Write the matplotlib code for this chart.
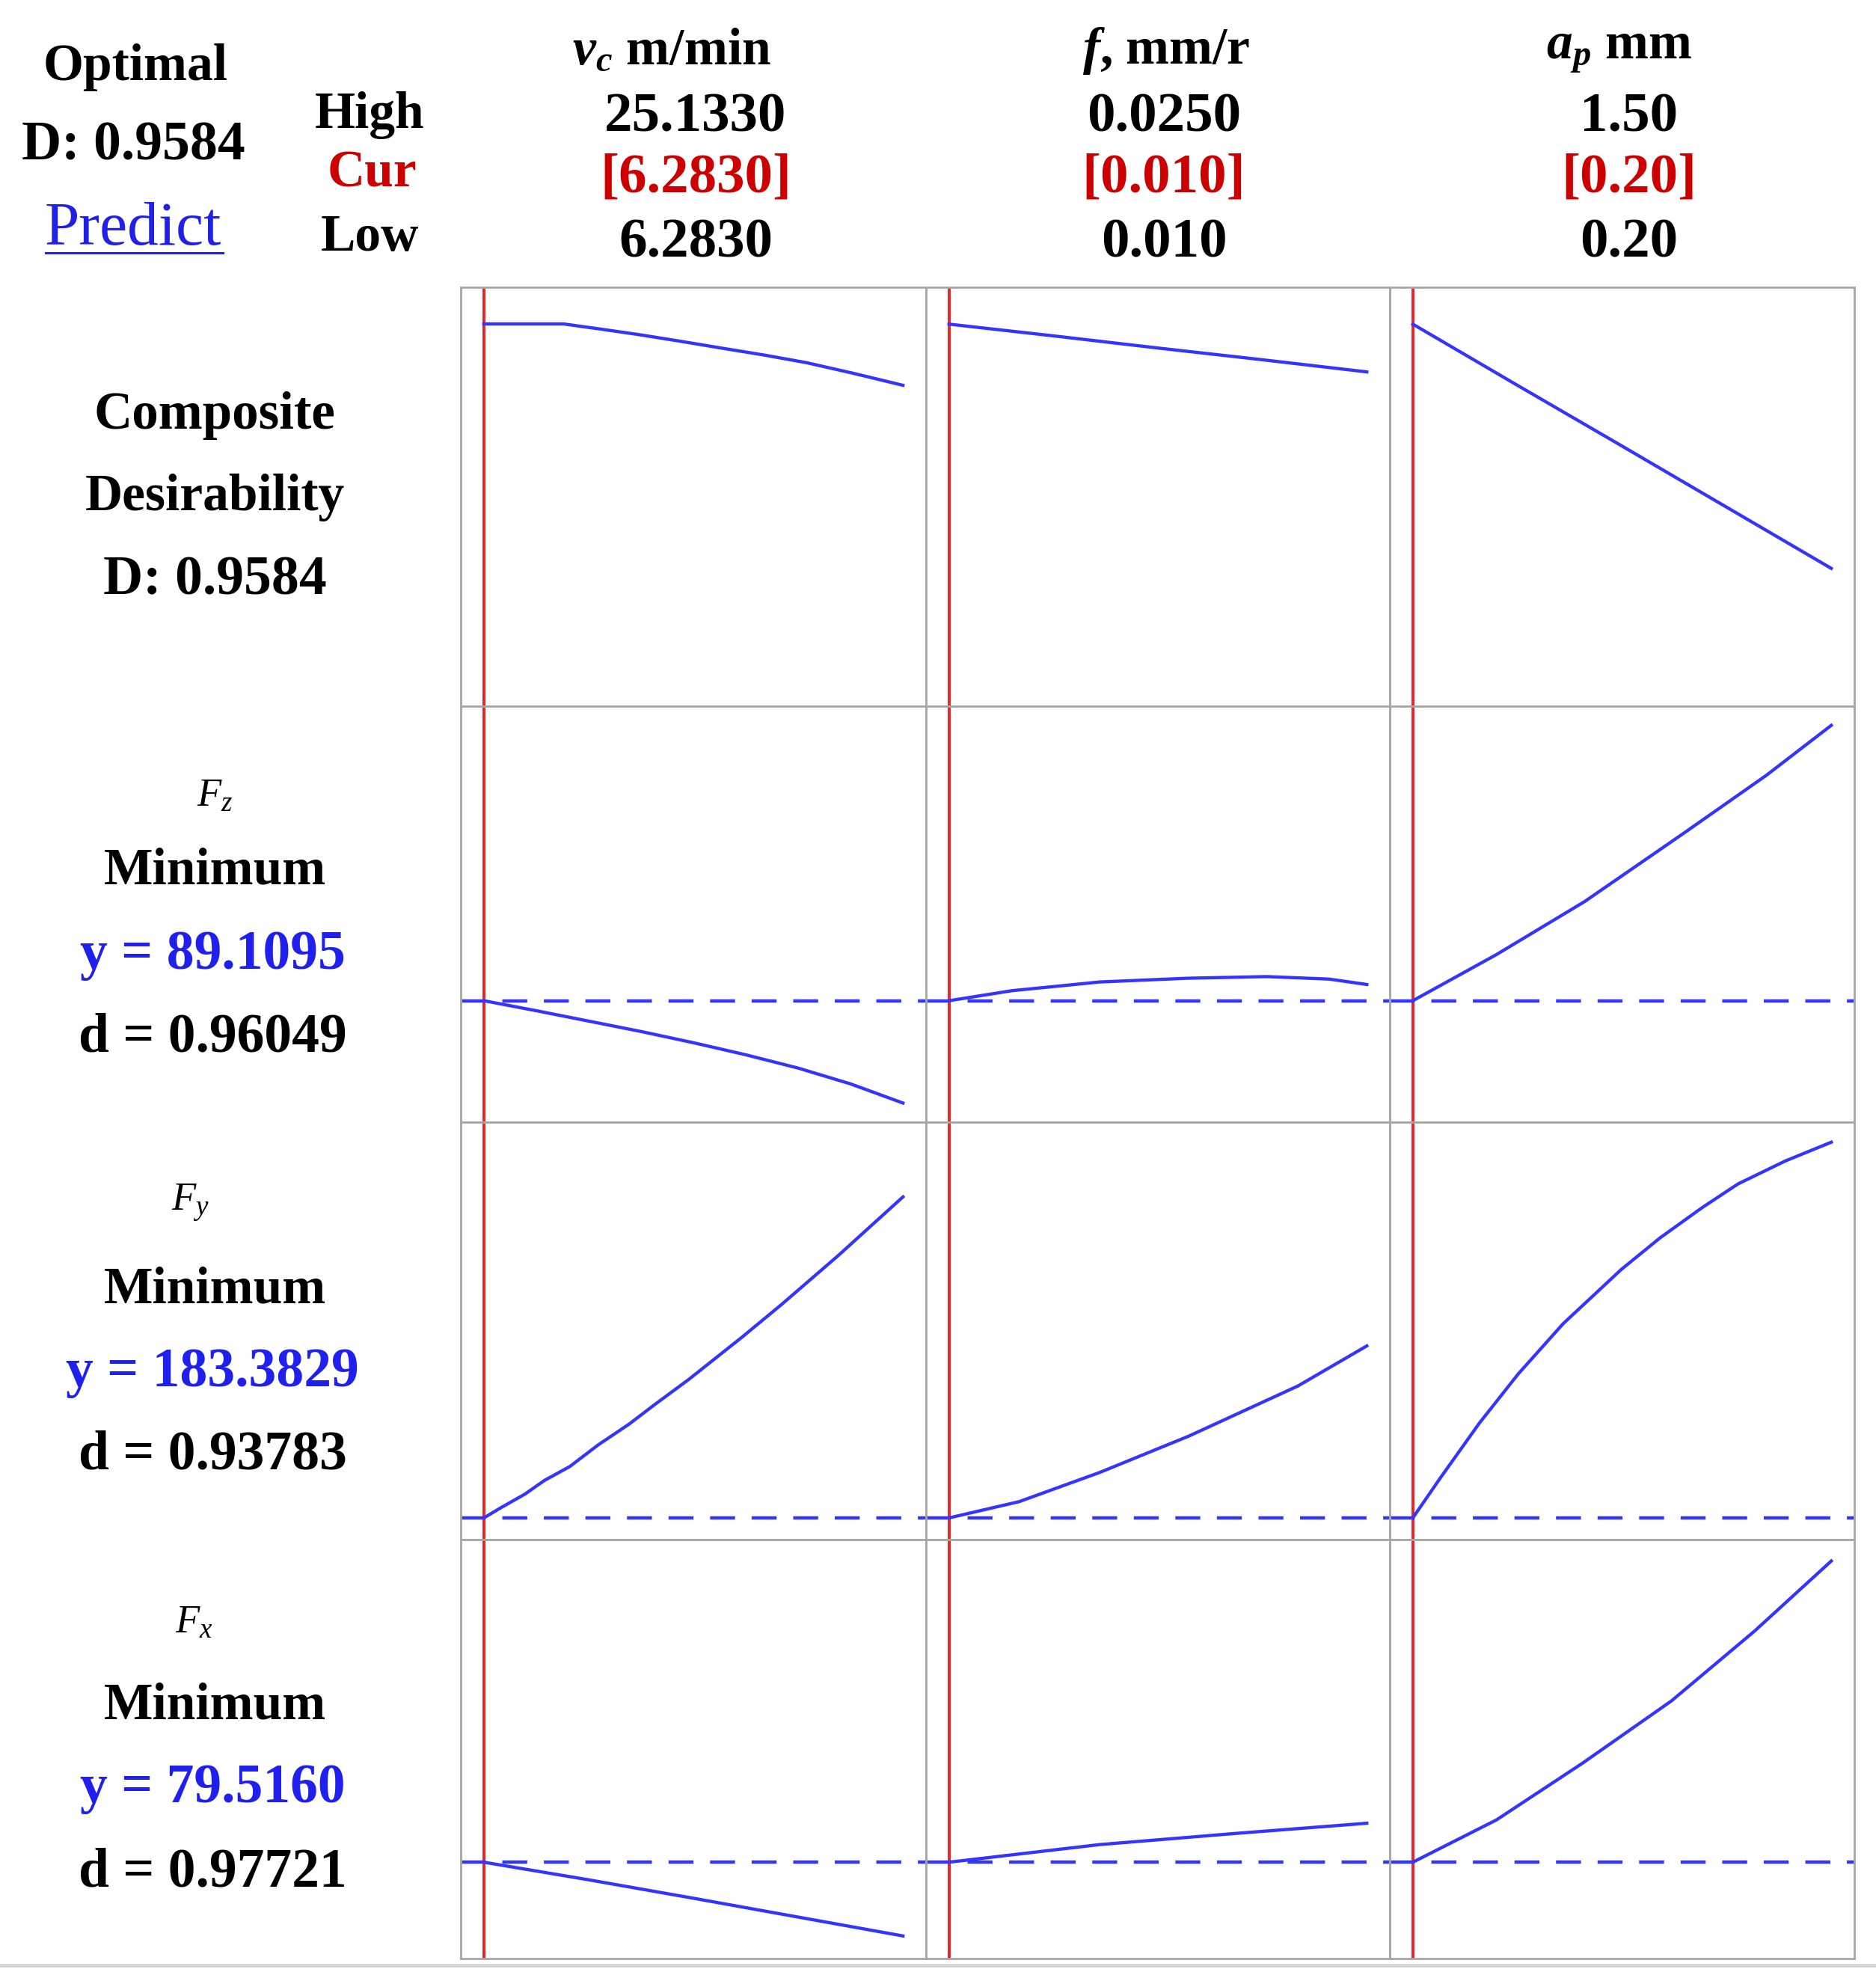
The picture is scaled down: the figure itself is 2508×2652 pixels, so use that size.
import matplotlib.pyplot as plt
from matplotlib.lines import Line2D

plt.rcParams['font.family'] = ['Liberation Serif', 'DejaVu Serif']
plt.rcParams['mathtext.fontset'] = 'custom'
plt.rcParams['mathtext.rm'] = 'Liberation Serif'
plt.rcParams['mathtext.it'] = 'Liberation Serif:italic'
plt.rcParams['mathtext.bf'] = 'Liberation Serif:bold'
plt.rcParams['mathtext.bfit'] = 'Liberation Serif:italic:bold'

# factors (columns)
factor_names = [r'$\mathbfit{v_c}$ m/min', r'$\mathbfit{f}$, mm/r', r'$\mathbfit{a_p}$ mm']
factor_low = [6.2830, 0.010, 0.20]
factor_high = [25.1330, 0.0250, 1.50]
high_labels = ['25.1330', '0.0250', '1.50']
cur_labels = ['[6.2830]', '[0.010]', '[0.20]']
low_labels = ['6.2830', '0.010', '0.20']

# responses (rows)
resp_names = [r'$F_z$', r'$F_y$', r'$F_x$']
resp_goal = ['Minimum', 'Minimum', 'Minimum']
resp_y = ['89.1095', '183.3829', '79.5160']
resp_d = ['0.96049', '0.93783', '0.97721']
composite_D = '0.9584'

# current response level (fraction of panel height), composite row has none
ref_level = [None, 0.292, 0.052, 0.230]

# curves: x = fraction of factor range, y = fraction of panel height
comp_vc_x = [0, 0.19, 0.28, 0.37, 0.47, 0.56, 0.67, 0.77, 0.88, 1.0]
comp_vc_y = [0.9125, 0.9125, 0.900, 0.887, 0.871, 0.856, 0.838, 0.820, 0.795, 0.766]
comp_f_x = [0, 0.25, 0.5, 0.75, 1.0]
comp_f_y = [0.912, 0.884, 0.855, 0.827, 0.798]
comp_ap_x = [0, 0.25, 0.5, 0.75, 1.0]
comp_ap_y = [0.912, 0.766, 0.621, 0.475, 0.329]

fz_vc_x = [0, 0.125, 0.25, 0.375, 0.5, 0.625, 0.75, 0.875, 1.0]
fz_vc_y = [0.292, 0.268, 0.243, 0.218, 0.191, 0.162, 0.130, 0.092, 0.046]
fz_f_x = [0, 0.15, 0.36, 0.57, 0.76, 0.91, 1.0]
fz_f_y = [0.292, 0.316, 0.337, 0.346, 0.350, 0.344, 0.331]
fz_ap_x = [0, 0.2, 0.41, 0.645, 0.845, 1.0]
fz_ap_y = [0.292, 0.403, 0.530, 0.693, 0.834, 0.954]

fy_vc_x = [0, 0.04, 0.098, 0.145, 0.205, 0.273, 0.347, 0.407, 0.488, 0.616, 0.71, 0.845, 1.0]
fy_vc_y = [0.052, 0.076, 0.109, 0.142, 0.175, 0.227, 0.277, 0.323, 0.383, 0.485, 0.563, 0.680, 0.821]
fy_f_x = [0, 0.168, 0.361, 0.574, 0.835, 1.0]
fy_f_y = [0.052, 0.091, 0.161, 0.248, 0.368, 0.464]
fy_ap_x = [0, 0.066, 0.159, 0.252, 0.359, 0.498, 0.591, 0.691, 0.777, 0.890, 1.0]
fy_ap_y = [0.052, 0.148, 0.279, 0.397, 0.517, 0.647, 0.723, 0.795, 0.852, 0.907, 0.952]

fx_vc_x = [0, 0.25, 0.5, 0.75, 1.0]
fx_vc_y = [0.230, 0.188, 0.144, 0.099, 0.054]
fx_f_x = [0, 0.36, 0.69, 1.0]
fx_f_y = [0.230, 0.272, 0.299, 0.323]
fx_ap_x = [0, 0.2, 0.405, 0.618, 0.817, 1.0]
fx_ap_y = [0.230, 0.331, 0.466, 0.615, 0.782, 0.949]

curves = [
    [(comp_vc_x, comp_vc_y), (comp_f_x, comp_f_y), (comp_ap_x, comp_ap_y)],
    [(fz_vc_x, fz_vc_y), (fz_f_x, fz_f_y), (fz_ap_x, fz_ap_y)],
    [(fy_vc_x, fy_vc_y), (fy_f_x, fy_f_y), (fy_ap_x, fy_ap_y)],
    [(fx_vc_x, fx_vc_y), (fx_f_x, fx_f_y), (fx_ap_x, fx_ap_y)],
]

W, H = 2508, 2652
fig = plt.figure(figsize=(W / 100, H / 100), dpi=100)

col_edges = [616, 1238, 1858, 2479]
row_edges = [384, 944, 1500, 2058, 2618]

BLUE = '#3434ff'
RED = '#ee2222'
GRID = '#a6a6a6'

def fx(x):
    return x / W

def fy(y):
    return 1 - y / H

for r in range(4):
    for c in range(3):
        x0, x1 = col_edges[c], col_edges[c + 1]
        y0, y1 = row_edges[r], row_edges[r + 1]
        ax = fig.add_axes([fx(x0), fy(y1), (x1 - x0) / W, (y1 - y0) / H])
        lo, hi = factor_low[c], factor_high[c]
        span = hi - lo
        xs, ys = curves[r][c]
        ax.plot([lo + v * span for v in xs], ys, color=BLUE, lw=3.1, zorder=3,
                solid_joinstyle='round')
        ax.axvline(lo, color=RED, lw=2.8, zorder=2)
        if ref_level[r] is not None:
            ax.axhline(ref_level[r], color=BLUE, lw=3.2, ls=(0, (7.5, 5)), zorder=2)
        ax.set_xlim(lo - 0.055 * span, hi + 0.055 * span)
        ax.set_ylim(0, 1)
        ax.set_xticks([])
        ax.set_yticks([])
        for s in ax.spines.values():
            s.set_color(GRID)
            s.set_linewidth(2)

WORD = 50
NUM = 54
DY = 5  # text nudge down, px

def t(x, y, s, color='black', size=WORD, weight='bold'):
    fig.text(fx(x), fy(y + DY), s, color=color, fontsize=size, ha='center', va='center',
             fontweight=weight)

# header block
t(181, 85, 'Optimal')
t(178, 191, 'D: ' + composite_D, size=NUM - 1)
t(178, 302, 'Predict', color='#2020e8', size=60, weight='normal')
fig.add_artist(Line2D([fx(61), fx(298)], [fy(338), fy(338)], color='#2020e8', lw=2.2))
t(494, 149, 'High')
t(497, 228, 'Cur', color='#cc0000')
t(495, 313, 'Low')

head_x = [898, 1559, 2165]
val_x = [930, 1556, 2178]
for c in range(3):
    t(head_x[c], 63, factor_names[c])
    t(val_x[c], 152, high_labels[c], size=NUM)
    t(val_x[c], 233, cur_labels[c], color='#cc0000', size=NUM)
    t(val_x[c], 321, low_labels[c], size=NUM)

# row labels
t(287, 550, 'Composite', size=51)
t(287, 660, 'Desirability')
t(287, 771, 'D: ' + composite_D, size=NUM - 1)

name_pos = [(287, 1060), (254, 1603), (259, 2165)]
row_y = [(1160, 1272, 1383), (1720, 1830, 1940), (2276, 2386, 2498)]
for i in range(3):
    nx, ny = name_pos[i]
    t(nx, ny, resp_names[i], size=38, weight='normal')
    gy, yy, dy = row_y[i]
    t(287, gy, resp_goal[i])
    t(284, yy, 'y = ' + resp_y[i], color='#1f1fee', size=NUM - 1)
    t(284, dy, 'd = ' + resp_d[i], size=NUM - 1)

fig.add_artist(Line2D([0, 1], [fy(2627), fy(2627)], color='#d6d6d6', lw=3.5))

fig.savefig('out.png', dpi=100, facecolor='white')
